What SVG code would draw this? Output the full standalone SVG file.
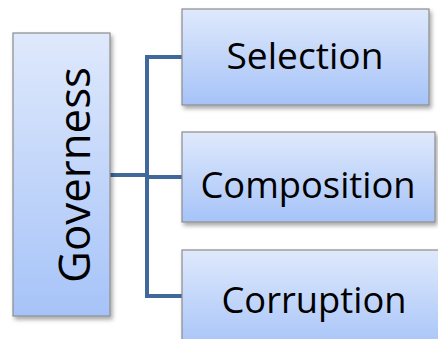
<svg xmlns="http://www.w3.org/2000/svg" width="438" height="339" viewBox="0 0 438 339">
  <defs>
    <linearGradient id="boxFill" x1="0" y1="0" x2="0" y2="1">
      <stop offset="0" stop-color="#dfe9fc"/>
      <stop offset="1" stop-color="#a6c3f8"/>
    </linearGradient>
    <filter id="shadow" x="-10%" y="-10%" width="130%" height="130%">
      <feDropShadow dx="2" dy="3" stdDeviation="2" flood-color="#000" flood-opacity="0.35"/>
    </filter>
  </defs>
  <style>
    .box { fill: url(#boxFill); stroke: #8c8c8c; stroke-width: 1.2; filter: url(#shadow); }
    .label { font-family: "Open Sans", "Liberation Sans", sans-serif; fill: #000; text-anchor: middle; }
    .link { fill: none; stroke: #41689b; stroke-width: 4; stroke-linejoin: miter; }
  </style>

  <rect width="438" height="339" fill="#fff"/>

  <!-- connectors -->
  <g id="connectors">
    <path class="link" d="M110 175 H147"/>
    <path class="link" d="M182 57 H147 V296 H182"/>
    <path class="link" d="M147 177 H182"/>
  </g>

  <g id="governess">
    <rect class="box" x="13" y="33" width="97" height="283"/>
    <text class="label" font-size="44" transform="translate(90 175) rotate(-90)" textLength="216" lengthAdjust="spacingAndGlyphs">Governess</text>
  </g>

  <g id="selection">
    <rect class="box" x="182" y="9" width="247" height="96"/>
    <text class="label" x="305" y="69" font-size="37" textLength="157" lengthAdjust="spacingAndGlyphs">Selection</text>
  </g>

  <g id="composition">
    <rect class="box" x="182" y="132" width="253" height="90"/>
    <text class="label" x="308" y="198" font-size="37" textLength="215" lengthAdjust="spacingAndGlyphs">Composition</text>
  </g>

  <g id="corruption">
    <rect class="box" x="182" y="250" width="262" height="100"/>
    <text class="label" x="314" y="313" font-size="37" textLength="185" lengthAdjust="spacingAndGlyphs">Corruption</text>
  </g>
</svg>
